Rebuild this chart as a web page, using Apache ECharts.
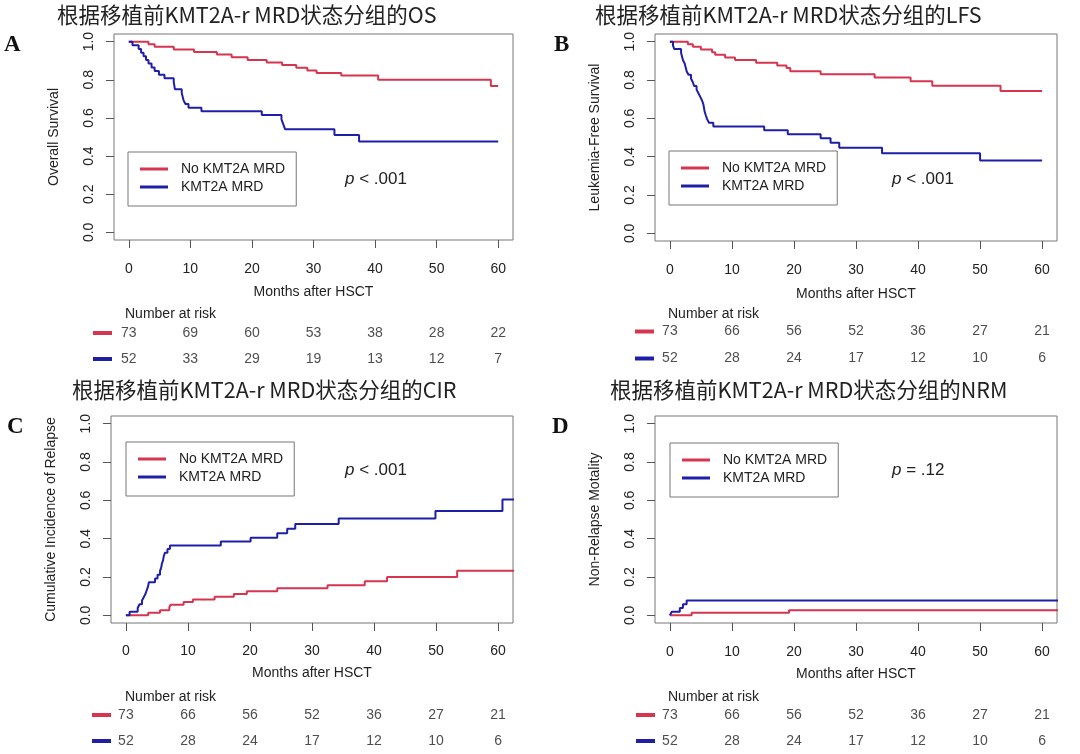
<!DOCTYPE html>
<html><head><meta charset="utf-8">
<script src="https://cdn.jsdelivr.net/npm/echarts@6/dist/echarts.min.js"></script>
<style>html,body{margin:0;padding:0;background:#fff}#c{width:1080px;height:754px}</style>
</head><body><div id="c"></div>
<script>
// ---------- data ----------
const xTicks = [0, 10, 20, 30, 40, 50, 60];
const yTicks = [0, 0.2, 0.4, 0.6, 0.8, 1.0];
const groupNames = ['No KMT2A MRD', 'KMT2A MRD'];

const osNoMrd = [[0,1],[3.2,0.986],[4.2,0.973],[7.3,0.959],[10.6,0.945],[14.3,0.932],[16.7,0.918],[19.3,0.904],[22.4,0.890],[24.9,0.877],[27.2,0.863],[29.0,0.849],[30.5,0.836],[34.5,0.822],[40.5,0.800],[58.8,0.767],[60,0.767]];
const osMrd = [[0,1],[0.6,0.981],[1.6,0.962],[2.0,0.942],[2.4,0.923],[2.8,0.904],[3.2,0.885],[3.7,0.865],[4.2,0.846],[4.9,0.827],[5.8,0.808],[7.3,0.788],[7.5,0.750],[8.6,0.731],[8.9,0.692],[9.2,0.673],[9.7,0.654],[11.8,0.635],[21.6,0.615],[24.8,0.592],[25.1,0.566],[25.4,0.540],[33.4,0.510],[37.4,0.476],[60,0.476]];

const lfsNoMrd = [[0,1],[2.9,0.986],[3.7,0.973],[5.0,0.959],[6.8,0.945],[7.3,0.932],[8.9,0.918],[10.5,0.904],[13.9,0.890],[17.3,0.876],[18.8,0.862],[19.4,0.846],[24.3,0.830],[33.0,0.813],[38.8,0.794],[42.3,0.770],[53.3,0.742],[60,0.742]];
const lfsMrd = [[0,1],[0.5,0.981],[0.7,0.962],[1.8,0.942],[2.1,0.904],[2.4,0.885],[2.7,0.846],[3.0,0.827],[3.4,0.808],[3.7,0.788],[3.9,0.769],[4.3,0.750],[4.6,0.731],[4.9,0.712],[5.2,0.692],[5.4,0.673],[5.6,0.635],[5.8,0.615],[6.0,0.596],[6.3,0.577],[7.0,0.558],[15.2,0.538],[19.0,0.517],[24.3,0.496],[25.9,0.472],[27.3,0.447],[34.2,0.418],[50.0,0.380],[60,0.380]];

const cirNoMrd = [[0,0],[3.6,0.014],[5.5,0.027],[7.0,0.041],[7.2,0.055],[9.3,0.069],[10.8,0.083],[14.3,0.097],[17.4,0.111],[19.5,0.126],[24.4,0.141],[32.5,0.157],[38.5,0.178],[42.1,0.200],[53.4,0.232],[66,0.232]];
const cirMrd = [[0,0],[0.6,0.019],[1.9,0.038],[2.2,0.058],[2.6,0.077],[2.9,0.096],[3.2,0.115],[3.4,0.135],[3.6,0.154],[3.7,0.173],[4.7,0.192],[5.1,0.212],[5.5,0.231],[5.7,0.250],[5.8,0.269],[6.0,0.288],[6.1,0.308],[6.3,0.327],[6.7,0.346],[7.1,0.365],[15.3,0.385],[20.1,0.405],[24.4,0.428],[26.0,0.452],[27.3,0.476],[34.3,0.505],[49.9,0.544],[60.7,0.605],[66,0.605]];

const nrmNoMrd = [[0,0],[3.5,0.014],[19.2,0.027],[66,0.027]];
const nrmMrd = [[0,0],[0.3,0.019],[1.6,0.038],[2.1,0.058],[2.7,0.077],[66,0.077]];

const riskOsNoMrd = [73, 69, 60, 53, 38, 28, 22];
const riskOsMrd = [52, 33, 29, 19, 13, 12, 7];
const riskNoMrd = [73, 66, 56, 52, 36, 27, 21];
const riskMrd = [52, 28, 24, 17, 12, 10, 6];

const panelTitles = ['根据移植前KMT2A-r MRD状态分组的OS', '根据移植前KMT2A-r MRD状态分组的LFS', '根据移植前KMT2A-r MRD状态分组的CIR', '根据移植前KMT2A-r MRD状态分组的NRM'];
const panelLetters = ['A', 'B', 'C', 'D'];
const yNames = ['Overall Survival', 'Leukemia-Free Survival', 'Cumulative Incidence of Relapse', 'Non-Relapse Motality'];
const pTexts = ['< .001', '< .001', '< .001', '= .12'];
const xName = 'Months after HSCT';
const riskHeader = 'Number at risk';

// ---------- layout ----------
const RED = '#d5354f', BLUE = '#1e1ea6', BOX = '#777', TXT = '#222';
const FONT = "'Liberation Sans', Arial, Helvetica, sans-serif";
const panels = [
  {curves:[osNoMrd, osMrd], risk:[riskOsNoMrd, riskOsMrd], grid:{left:114,top:34,width:399,height:206}, risk_g:{top:320,height:52}, riskHead:{left:125,top:306}, title:{left:57,top:3}, letter:{left:4,top:33}, legend:{left:128,top:152}, p:{left:345,top:169}, xm:22, xg:45, rm:2},
  {curves:[lfsNoMrd, lfsMrd], risk:[riskNoMrd, riskMrd], grid:{left:655,top:34,width:402,height:207}, risk_g:{top:318,height:54}, riskHead:{left:668,top:306}, title:{left:595,top:3}, letter:{left:554,top:33}, legend:{left:669,top:151}, p:{left:892,top:169}, xm:22, xg:46, rm:1},
  {curves:[cirNoMrd, cirMrd], risk:[riskNoMrd, riskMrd], grid:{left:111,top:416,width:402,height:207}, risk_g:{top:702,height:52}, riskHead:{left:125,top:689}, title:{left:72,top:378}, letter:{left:7,top:415}, legend:{left:126,top:442}, p:{left:345,top:460}, xm:21, xg:43, rm:0},
  {curves:[nrmNoMrd, nrmMrd], risk:[riskNoMrd, riskMrd], grid:{left:655,top:416,width:402,height:207}, risk_g:{top:702,height:52}, riskHead:{left:668,top:689}, title:{left:610,top:378}, letter:{left:552,top:415}, legend:{left:670,top:443}, p:{left:892,top:460}, xm:22, xg:44, rm:0}
];
const Y_MARGIN = 18, Y_GAP = 53;

const grid = [], xAxis = [], yAxis = [], series = [], title = [], legend = [];
const baseText = {fontFamily: FONT, fontSize: 14, color: TXT};

panels.forEach((pn, i) => {
  const gi = grid.length;
  grid.push(Object.assign({show:true, borderColor:BOX, borderWidth:1, backgroundColor:'transparent'}, pn.grid));
  xAxis.push({gridIndex:gi, type:'value', min:-2.4, max:62.4,
    axisLine:{show:false, onZero:false}, splitLine:{show:false},
    axisTick:{show:true, inside:false, length:8, customValues:xTicks, lineStyle:{color:'#555'}},
    axisLabel:Object.assign({customValues:xTicks, margin:pn.xm}, baseText),
    name:xName, nameLocation:'middle', nameGap:pn.xg, nameTextStyle:baseText});
  yAxis.push({gridIndex:gi, type:'value', min:-0.04, max:1.04,
    axisLine:{show:false, onZero:false}, splitLine:{show:false},
    axisTick:{show:true, inside:false, length:8, customValues:yTicks, lineStyle:{color:'#555'}},
    axisLabel:Object.assign({customValues:yTicks, rotate:90, margin:Y_MARGIN, formatter:v => Number(v).toFixed(1)}, baseText),
    name:yNames[i], nameLocation:'middle', nameGap:Y_GAP, nameTextStyle:baseText});
  pn.curves.forEach((c, k) => {
    series.push({type:'line', name:groupNames[k], xAxisIndex:gi, yAxisIndex:gi, data:c, step:'end',
      symbol:'none', clip:true, silent:true, lineStyle:{color:k ? BLUE : RED, width:2}, itemStyle:{color:k ? BLUE : RED}});
  });
  // risk table grid
  const ri = grid.length;
  grid.push({left:pn.grid.left, width:pn.grid.width, top:pn.risk_g.top, height:pn.risk_g.height, show:false});
  xAxis.push({gridIndex:ri, type:'value', min:-2.4, max:62.4, show:false});
  yAxis.push({gridIndex:ri, type:'category', data:['noMrd','mrd'], inverse:true,
    axisLine:{show:false, onZero:false}, axisTick:{show:false}, splitLine:{show:false},
    axisLabel:{margin:pn.rm, formatter:v => v === 'noMrd' ? '{r|}' : '{b|}',
      rich:{r:{backgroundColor:RED, width:19, height:4}, b:{backgroundColor:BLUE, width:19, height:4}}}});
  const rdata = [];
  xTicks.forEach((t, j) => { rdata.push([t, 0, pn.risk[0][j]]); rdata.push([t, 1, pn.risk[1][j]]); });
  series.push({type:'scatter', xAxisIndex:ri, yAxisIndex:ri, data:rdata, symbolSize:1, silent:true,
    itemStyle:{color:'transparent'},
    label:Object.assign({show:true, position:'inside', formatter:p => p.value[2]}, baseText)});
  // texts
  title.push({text:panelTitles[i], left:pn.title.left, top:pn.title.top, padding:0,
    textStyle:{fontFamily:"'Noto Sans CJK SC', sans-serif", fontSize:21.5, lineHeight:24, fontWeight:'normal', color:TXT}});
  title.push({text:panelLetters[i], left:pn.letter.left, top:pn.letter.top, padding:0,
    textStyle:{fontFamily:"'Liberation Serif', 'Times New Roman', serif", fontSize:23, lineHeight:24, fontWeight:'bold', color:'#111'}});
  title.push({text:riskHeader, left:pn.riskHead.left, top:pn.riskHead.top, padding:0,
    textStyle:Object.assign({lineHeight:16, fontWeight:'normal'}, baseText)});
  title.push({text:'{i|p} ' + pTexts[i], left:pn.p.left, top:pn.p.top, padding:0,
    textStyle:{fontFamily:FONT, fontSize:17, lineHeight:20, fontWeight:'normal', color:TXT,
      rich:{i:{fontFamily:FONT, fontSize:17, fontStyle:'italic', color:TXT}}}});
  legend.push({data:groupNames, orient:'vertical', left:pn.legend.left, top:pn.legend.top,
    icon:'rect', itemWidth:28, itemHeight:3, itemGap:4, padding:[10,11,12,12], borderColor:BOX, borderWidth:1, borderRadius:0,
    selectedMode:false,
    textStyle:Object.assign({lineHeight:14, padding:[0,0,0,8]}, baseText)});
});

const chart = echarts.init(document.getElementById('c'), null, {renderer:'canvas'});
chart.setOption({animation:false, backgroundColor:'#fff', grid, xAxis, yAxis, series, title, legend});
</script></body></html>
